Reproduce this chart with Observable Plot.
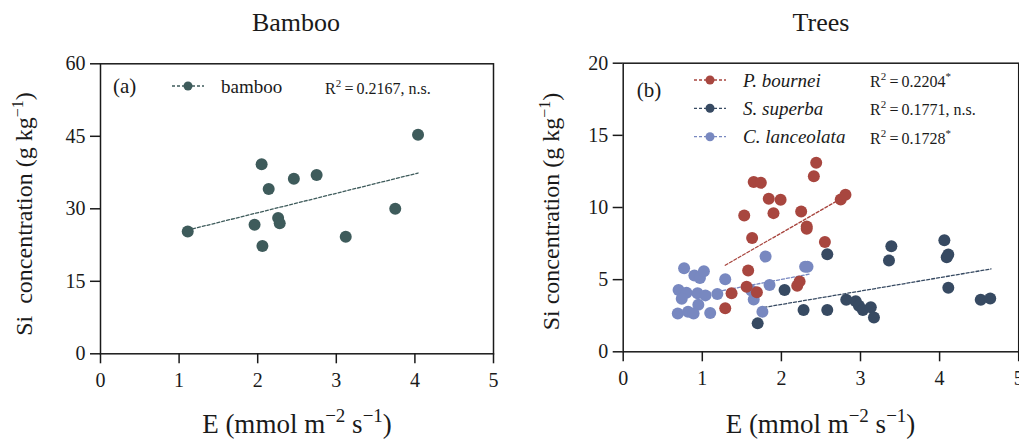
<!DOCTYPE html>
<html><head><meta charset="utf-8">
<script src="https://cdn.jsdelivr.net/npm/d3@7"></script>
<script src="https://cdn.jsdelivr.net/npm/@observablehq/plot@0.6"></script>
<style>
html,body{margin:0;padding:0;background:#fff;}
#wrap{position:relative;width:1019px;height:440px;overflow:hidden;background:#fff;font-family:"Liberation Serif","Times New Roman",serif;color:#1a1a1a;}
#wrap svg, #wrap svg text, #wrap svg tspan{font-family:"Liberation Serif","Times New Roman",serif !important;}
.title{position:absolute;top:10px;height:26px;line-height:26px;font-size:26px;text-align:center;width:300px;}
</style></head>
<body><div id="wrap">
<div class="title" style="left:146px">Bamboo</div>
<div class="title" style="left:671px">Trees</div>
</div>
<script>
// ---- data ----
const xTicks = [0, 1, 2, 3, 4, 5];
const yTicksA = [0, 15, 30, 45, 60];
const yTicksB = [0, 5, 10, 15, 20];

const bambooE  = [1.11, 2.05, 2.14, 2.46, 2.75, 4.04, 1.96, 2.26, 2.28, 2.06, 3.12, 3.75];
const bambooSi = [25.3, 39.2, 34.1, 36.2, 37.0, 45.3, 26.7, 28.1, 27.0, 22.3, 24.2, 30.0];
const bambooFitE  = [1.11, 4.04];
const bambooFitSi = [25.6, 37.4];

const pbE  = [2.44, 2.41, 1.65, 1.74, 1.84, 1.99, 1.90, 1.53, 2.25, 2.32, 2.32, 2.75, 2.81, 1.63, 2.55, 1.58, 1.56, 1.37, 1.69, 1.29, 2.20, 2.23];
const pbSi = [13.1, 12.17, 11.76, 11.71, 10.6, 10.53, 9.61, 9.44, 9.72, 8.68, 8.52, 10.56, 10.88, 7.89, 7.61, 5.63, 4.51, 4.05, 4.12, 3.01, 4.58, 4.88];
const pbFitE  = [1.29, 2.75];
const pbFitSi = [6.0, 10.6];

const ssE  = [2.58, 3.39, 3.36, 4.06, 4.11, 4.09, 4.11, 4.52, 4.64, 2.04, 2.28, 2.58, 1.70, 2.82, 2.94, 2.98, 3.03, 3.13, 3.17];
const ssSi = [6.76, 7.31, 6.32, 7.73, 6.74, 6.55, 4.44, 3.61, 3.70, 4.28, 2.89, 2.89, 1.97, 3.61, 3.50, 3.19, 2.89, 3.08, 2.38];
const ssFitE  = [1.78, 4.65];
const ssFitSi = [3.08, 5.74];

const clE  = [0.77, 0.90, 0.97, 1.02, 1.29, 1.80, 2.33, 2.30, 0.70, 0.80, 0.74, 0.94, 1.04, 1.19, 0.95, 0.69, 0.82, 0.89, 1.10, 1.65, 1.62, 1.76, 1.85];
const clSi = [5.79, 5.28, 5.12, 5.58, 5.02, 6.60, 5.90, 5.90, 4.28, 4.10, 3.68, 4.05, 3.91, 4.00, 3.26, 2.66, 2.78, 2.66, 2.69, 3.63, 4.24, 2.78, 4.63];
const clFitE  = [1.07, 2.36];
const clFitSi = [4.05, 5.39];

const colBamboo = "#3e5b5b";
const colPB = "#a8463f";
const colSS = "#374a62";
const colCL = "#7888c0";
const ink = "#1a1a1a";

const rows = (xs, ys) => xs.map((e, i) => ({E: e, Si: ys[i]}));

const baseStyle = {fontFamily: "Liberation Serif, serif", fontSize: "20px", color: ink, background: "transparent", overflow: "visible"};

function axes(yTicks) {
  return [
    Plot.axisX({ticks: xTicks, tickFormat: d => String(d), tickSize: 10, tickPadding: 9, strokeWidth: 1.5, label: null, fontSize: 20}),
    Plot.axisY({ticks: yTicks, tickFormat: d => String(d), tickSize: 10, tickPadding: 5, strokeWidth: 1.5, label: null, fontSize: 20}),
    Plot.frame({stroke: ink, strokeWidth: 1.5})
  ];
}
const fitLine = (d, c) => Plot.line(d, {x: "E", y: "Si", stroke: c, strokeWidth: 1.3, strokeDasharray: "3,2"});
const dots = (d, c) => Plot.dot(d, {x: "E", y: "Si", r: 6, fill: c, stroke: "none"});

const left = Plot.plot({
  width: 510, height: 396,
  marginTop: 19.3, marginBottom: 86.7, marginLeft: 100, marginRight: 17,
  x: {domain: [0, 5]}, y: {domain: [0, 60]},
  style: baseStyle,
  marks: [
    ...axes(yTicksA),
    fitLine(rows(bambooFitE, bambooFitSi), colBamboo),
    dots(rows(bambooE, bambooSi), colBamboo)
  ]
});

const right = Plot.plot({
  width: 509, height: 396,
  marginTop: 18.7, marginBottom: 88.7, marginLeft: 112.7, marginRight: 0.8,
  x: {domain: [0, 5]}, y: {domain: [0, 20]},
  style: baseStyle,
  marks: [
    ...axes(yTicksB),
    fitLine(rows(pbFitE, pbFitSi), colPB),
    fitLine(rows(ssFitE, ssFitSi), colSS),
    fitLine(rows(clFitE, clFitSi), colCL),
    dots(rows(clE, clSi), colCL),
    dots(rows(ssE, ssSi), colSS),
    dots(rows(pbE, pbSi), colPB)
  ]
});

const wrap = document.getElementById("wrap");
for (const [svg, x] of [[left, 0], [right, 510]]) {
  svg.style.position = "absolute";
  svg.style.left = x + "px";
  svg.style.top = "44px";
  wrap.appendChild(svg);
}

function txt(svg, x, y, size, anchor) {
  return d3.select(svg).append("text")
    .attr("x", x).attr("y", y)
    .attr("text-anchor", anchor || "start")
    .attr("font-size", size).attr("fill", ink).style("white-space", "pre");
}

function yLabel(svg, x, y, doubleSpace) {
  const t = d3.select(svg).append("text")
    .attr("transform", `translate(${x},${y}) rotate(-90)`)
    .attr("text-anchor", "middle").attr("font-size", 24)
    .attr("fill", ink).style("white-space", "pre");
  t.append("tspan").text(doubleSpace ? "Si  concentration (g kg" : "Si concentration (g kg");
  t.append("tspan").attr("font-size", 16).attr("dy", -9).text("\u22121");
  t.append("tspan").attr("dy", 9).text(")");
}
function xLabel(svg, x, y) {
  const t = txt(svg, x, y, 27, "middle");
  t.append("tspan").text("E (mmol m");
  t.append("tspan").attr("font-size", 19).attr("dy", -11).text("\u22122");
  t.append("tspan").attr("dy", 11).text(" s");
  t.append("tspan").attr("font-size", 19).attr("dy", -11).text("\u22121");
  t.append("tspan").attr("dy", 11).text(")");
}
function r2(svg, x, y, val, tail, star) {
  const t = txt(svg, x, y, 16, "start");
  t.append("tspan").text("R");
  t.append("tspan").attr("font-size", 11).attr("dy", -7).text("2");
  t.append("tspan").attr("dy", 7).text("\u2009=\u2009" + val + tail);
  if (star) t.append("tspan").attr("font-size", 11).attr("dy", -7).text("*");
}
function legendItem(svg, x, y, color, label, italic, size) {
  const g = d3.select(svg).append("g");
  g.append("line").attr("x1", x - 16).attr("x2", x + 16).attr("y1", y).attr("y2", y)
    .attr("stroke", color).attr("stroke-width", 1.3).attr("stroke-dasharray", "3,2");
  g.append("circle").attr("cx", x).attr("cy", y).attr("r", 4.5).attr("fill", color);
  txt(svg, x + 33, y + 6.5, size, "start")
    .attr("font-style", italic ? "italic" : "normal").text(label);
}

// left panel annotations (svg-local coords)
yLabel(left, 32, 170, true);
xLabel(left, 297, 389);
txt(left, 113, 49, 21).text("(a)");
legendItem(left, 188, 42, colBamboo, "bamboo", false, 19);
r2(left, 325, 50, "0.2167", ", n.s.", false);

// right panel annotations
yLabel(right, 49, 167.5, false);
xLabel(right, 310.5, 389);
txt(right, 126.7, 53, 21).text("(b)");
legendItem(right, 200, 36, colPB, "P. bournei", true, 19);
legendItem(right, 200, 64.3, colSS, "S. superba", true, 19);
legendItem(right, 200, 92.7, colCL, "C. lanceolata", true, 19);
r2(right, 360, 43, "0.2204", "", true);
r2(right, 360, 71.3, "0.1771", ", n.s.", false);
r2(right, 360, 99.7, "0.1728", "", true);
</script>
</body></html>
